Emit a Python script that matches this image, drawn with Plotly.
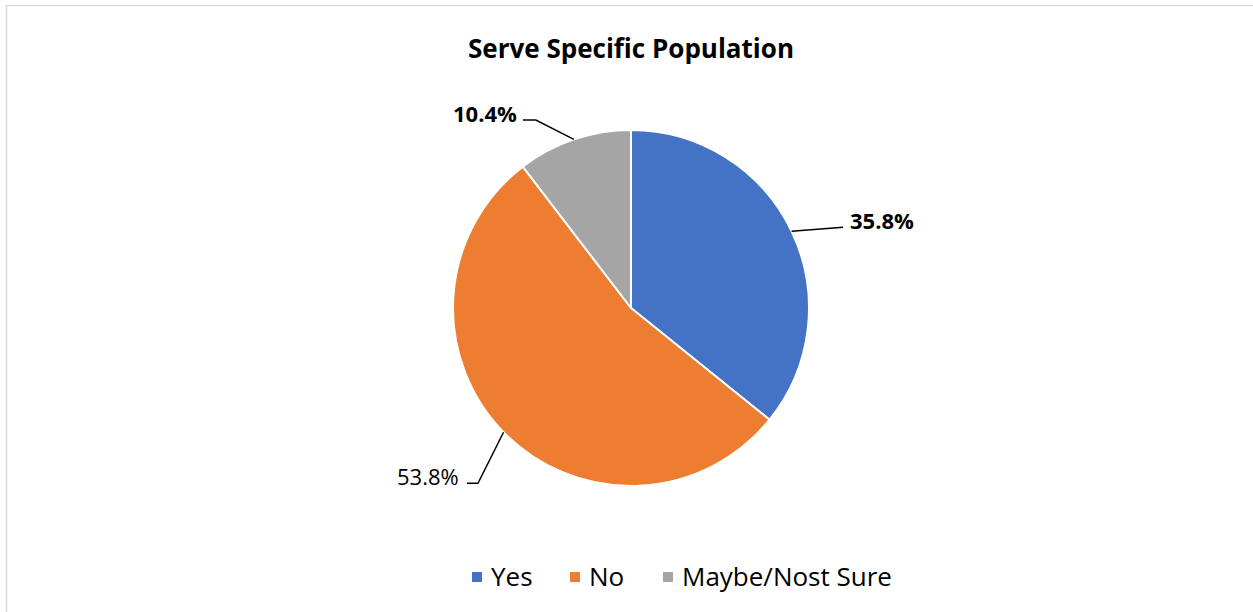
import math
import plotly.graph_objects as go

# Survey responses
categories = ["Yes", "No", "Maybe/Nost Sure"]
shares = [35.8, 53.8, 10.4]
colors = ["#4472C4", "#ED7D31", "#A5A5A5"]
label_bold = [True, False, True]

W, H = 1253, 612
cx, cy, r = 631, 308, 178          # pie centre and radius in pixels
FONT = "Open Sans, sans-serif"

# leader-line geometry relative to each slice's edge point (pixels):
# elbow point, line end, and label anchor point
label_style = [
    dict(elbow=(51.5, -4), end=(51.5, -4), label=(56.5, -11), anchor="left"),
    dict(elbow=(-25.6, 51), end=(-36.6, 51), label=(-42.6, 44), anchor="right"),
    dict(elbow=(-38, -19.4), end=(-51, -19.4), label=(-55, -26), anchor="right"),
]

# legend entry positions (left edge of swatch, pixels) and baseline row
legend_x = [472, 570, 663]
legend_y = 577


def px(x):
    return x / W


def py(y):
    return 1 - y / H


fig = go.Figure()
fig.add_trace(go.Pie(
    labels=categories,
    values=shares,
    sort=False,
    direction="clockwise",
    rotation=0,
    marker=dict(colors=colors, line=dict(color="white", width=2)),
    textinfo="none",
    hoverinfo="label+percent",
    showlegend=False,
    domain=dict(x=[px(cx - r), px(cx + r)], y=[py(cy + r), py(cy - r)]),
))

shapes = [dict(type="rect", xref="paper", yref="paper",
               x0=px(6.5), x1=px(W + 10), y0=py(H + 10), y1=py(5.5),
               line=dict(color="#D9D9D9", width=1.5), fillcolor="rgba(0,0,0,0)")]
annotations = []
total = sum(shares)
start = 0.0
for cat, val, bold, st in zip(categories, shares, label_bold, label_style):
    frac = val / total
    mid = (start + frac / 2) * 2 * math.pi
    start += frac
    ex = cx + r * math.sin(mid)
    ey = cy - r * math.cos(mid)
    bx, by = ex + st["elbow"][0], ey + st["elbow"][1]
    lx, ly = ex + st["end"][0], ey + st["end"][1]
    path = f"M {px(ex)},{py(ey)} L {px(bx)},{py(by)} L {px(lx)},{py(ly)}"
    shapes.append(dict(type="path", xref="paper", yref="paper", path=path,
                       line=dict(color="black", width=1.5)))
    txt = f"{val:.1f}%"
    if bold:
        txt = f"<b>{txt}</b>"
    annotations.append(dict(
        x=px(ex + st["label"][0]), y=py(ey + st["label"][1]),
        xref="paper", yref="paper", text=txt, showarrow=False,
        xanchor=st["anchor"], yanchor="middle",
        font=dict(family=FONT, size=22, color="black"),
    ))

# legend: colour swatch followed by category name
for cat, col, lx0 in zip(categories, colors, legend_x):
    shapes.append(dict(type="rect", xref="paper", yref="paper",
                       x0=px(lx0), x1=px(lx0 + 10),
                       y0=py(legend_y + 5), y1=py(legend_y - 5),
                       line=dict(width=0), fillcolor=col))
    annotations.append(dict(
        x=px(lx0 + 17), y=py(legend_y - 1), xref="paper", yref="paper",
        text=cat, showarrow=False, xanchor="left", yanchor="middle",
        font=dict(family=FONT, size=26, color="black"),
    ))

fig.update_layout(
    width=W, height=H,
    margin=dict(l=0, r=0, t=0, b=0),
    paper_bgcolor="white",
    plot_bgcolor="white",
    title=dict(text="<b>Serve Specific Population</b>", x=px(631), xanchor="center",
               y=py(49), yanchor="middle",
               font=dict(family=FONT, size=26, color="black")),
    showlegend=False,
    shapes=shapes,
    annotations=annotations,
)

fig.write_html("out.html")
